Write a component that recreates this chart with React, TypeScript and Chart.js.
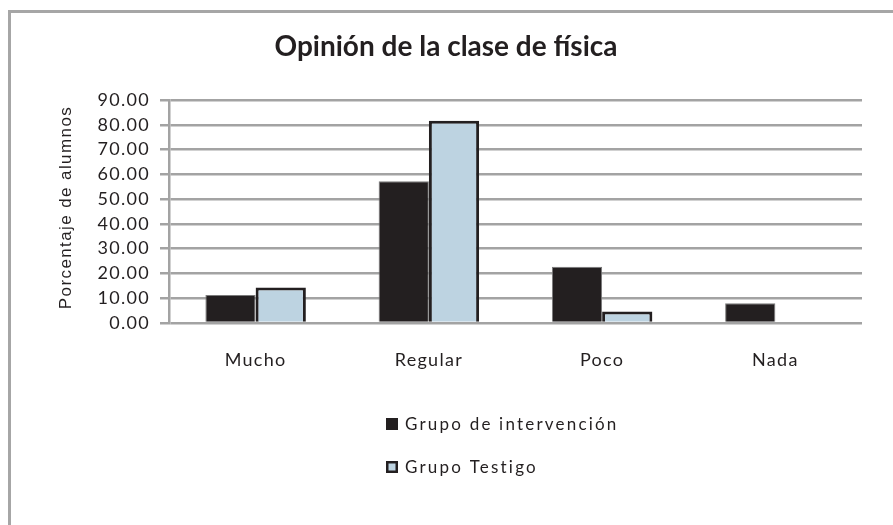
import React, { useEffect, useRef } from "react";
import { Chart, registerables } from "chart.js";

Chart.register(...registerables);

const chartTitle = "Opinión de la clase de física";
const yAxisTitle = "Porcentaje de alumnos";
const categories = ["Mucho", "Regular", "Poco", "Nada"];
const seriesNames = ["Grupo de intervención", "Grupo Testigo"];
const intervencion = [11.3, 57.2, 22.7, 8.0];
const testigo = [14.3, 81.6, 4.6, 0];
const yMin = 0;
const yMax = 90;
const yStep = 10;

const DARK = "#231f20";
const BLUE = "#bdd3e1";
const GRID = "#a3a3a3";
const SPACING = "1.3px";

const framePlugin = {
  id: "frameAndText",
  beforeUpdate(chart: any) {
    chart.ctx.letterSpacing = SPACING;
  },
  beforeDraw(chart: any) {
    const ctx = chart.ctx;
    ctx.letterSpacing = SPACING;
    ctx.save();
    ctx.fillStyle = "#ffffff";
    ctx.fillRect(0, 0, chart.width, chart.height);
    ctx.strokeStyle = "#a6a6a6";
    ctx.lineWidth = 3;
    ctx.beginPath();
    ctx.moveTo(9.5, chart.height);
    ctx.lineTo(9.5, 11.5);
    ctx.lineTo(chart.width, 11.5);
    ctx.stroke();
    ctx.restore();
  },
  afterDraw(chart: any) {
    const ctx = chart.ctx;
    const area = chart.chartArea;
    ctx.save();
    // title
    ctx.letterSpacing = "0px";
    ctx.fillStyle = DARK;
    ctx.font = "bold 28px Lato";
    ctx.textAlign = "center";
    ctx.textBaseline = "middle";
    ctx.fillText(chartTitle, 446, 47);
    // y axis title
    ctx.save();
    ctx.translate(66, (area.top + area.bottom) / 2 - 4);
    ctx.rotate(-Math.PI / 2);
    ctx.letterSpacing = "1.4px";
    ctx.font = "17px 'Liberation Sans'";
    ctx.fillStyle = DARK;
    ctx.fillText(yAxisTitle, 0, 0);
    ctx.restore();
    // legend
    ctx.letterSpacing = "2.2px";
    ctx.font = "17px Lato";
    ctx.textAlign = "left";
    ctx.textBaseline = "middle";
    const ds = chart.data.datasets;
    const rows = [424, 467];
    ds.forEach((d: any, i: number) => {
      const y = rows[i];
      const x = 386;
      ctx.fillStyle = d.backgroundColor;
      ctx.fillRect(x, y - 6, 12, 12);
      if (i === 1) {
        ctx.strokeStyle = d.borderColor;
        ctx.lineWidth = 2.5;
        ctx.strokeRect(x + 1.25, y - 4.75, 9.5, 9.5);
      }
      ctx.fillStyle = DARK;
      ctx.fillText(d.label, x + 19, y + 1);
    });
    ctx.restore();
  },
};

export default function App() {
  const ref = useRef<HTMLCanvasElement | null>(null);
  useEffect(() => {
    if (!ref.current) return;
    const chart = new Chart(ref.current, {
      type: "bar",
      data: {
        labels: categories,
        datasets: [
          {
            label: seriesNames[0],
            data: intervencion,
            backgroundColor: DARK,
            borderColor: "#7a7a7a",
            borderWidth: 1,
          },
          {
            label: seriesNames[1],
            data: testigo,
            backgroundColor: BLUE,
            borderColor: DARK,
            borderWidth: 3,
          },
        ],
      },
      options: {
        animation: false,
        responsive: false,
        devicePixelRatio: 1,
        layout: { padding: { left: 0, top: 100, right: 31, bottom: 0 } },
        plugins: {
          legend: { display: false },
          title: { display: false },
          tooltip: { enabled: false },
        },
        datasets: {
          bar: { categoryPercentage: 0.58, barPercentage: 1 },
        },
        scales: {
          x: {
            grid: { display: false, drawTicks: false },
            border: { display: false },
            ticks: {
              color: DARK,
              font: { family: "Lato", size: 18 },
              padding: 26,
            },
            afterFit(scale: any) {
              scale.height = 202;
            },
          },
          y: {
            min: yMin,
            max: yMax,
            ticks: {
              stepSize: yStep,
              autoSkip: false,
              color: DARK,
              font: { family: "Lato", size: 18 },
              padding: 10,
              callback: (v: any) => Number(v).toFixed(2),
            },
            grid: {
              color: GRID,
              lineWidth: 2.5,
              tickLength: 9,
              drawTicks: true,
            },
            border: { display: true, color: GRID, width: 2.5 },
            afterFit(scale: any) {
              scale.width = 169;
            },
          },
        },
      },
      plugins: [framePlugin],
    });
    return () => chart.destroy();
  }, []);
  return (
    <div style={{ position: "fixed", left: 0, top: 0, width: 893, height: 525, background: "#fff" }}>
      <canvas ref={ref} width={893} height={525} style={{ display: "block" }} />
    </div>
  );
}
